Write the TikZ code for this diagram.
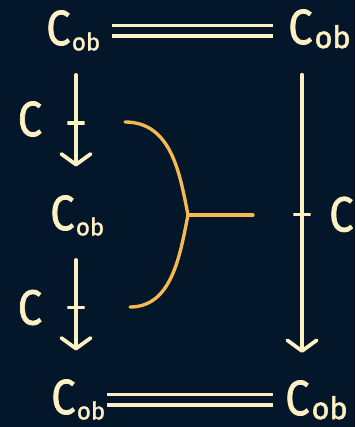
\documentclass[tikz,border=0pt]{standalone}
\usepackage{fontspec}
\setmainfont{Fira Sans}[FakeBold=1.6]
\usetikzlibrary{arrows.meta}
\definecolor{bg}{HTML}{03162A}
\definecolor{cream}{HTML}{FDF1C4}
\definecolor{bracecol}{HTML}{F8B953}
% the big C and the object category C_ob (small and large subscript)
\newcommand\bigC{\scalebox{0.88}[1]{\fontsize{37}{37}\selectfont C}}
\newcommand\Cob{\bigC\kern1pt\raisebox{-4pt}{\fontsize{18}{18}\selectfont ob}}
\newcommand\CobL{\bigC\kern1.5pt\raisebox{-3pt}{\fontsize{23}{23}\selectfont ob}}
\begin{document}
\begin{tikzpicture}[x=0.75pt,y=-0.75pt,
  obj/.style={text=cream, inner sep=0pt, anchor=base west},
  lbl/.style={text=cream, inner sep=0pt},
  arr/.style={draw=cream, line width=2.8pt, line cap=round,
    shorten <=18pt, shorten >=21.5pt,
    -{Straight Barb[length=8pt,width=22pt,line cap=round,line join=round]}},
  eqline/.style={draw=cream, line width=2.5pt, double=bg, double distance=5.5pt},
  tickmark/.style={draw=cream, line width=2.8pt, shape=rectangle,
    minimum width=13pt, minimum height=0pt, inner sep=0pt},
  bracestroke/.style={draw=bracecol, line width=2.5pt, line cap=round, line join=round}]
\fill[bg] (0,0) rectangle (355,427);
\useasboundingbox (0,0) rectangle (355,427);

% objects
\node[obj] (tl) at (46,45) {\Cob};
\node[obj] (tr) at (288,44) {\CobL};
\node[obj] (ml) at (50,230) {\Cob};
\node[obj] (bl) at (51,414) {\Cob};
\node[obj] (br) at (285,415) {\CobL};

% columns of the vertical arrows
\coordinate (lcol) at (76,0);
\coordinate (rcol) at (302,0);

% identities
\draw[eqline, shorten <=9pt, shorten >=11pt] (tl.east) -- (tl.east -| tr.west);
\draw[eqline, shorten <=1pt, shorten >=9pt] (bl.east) -- (bl.east -| br.west);

% left arrows
\draw[arr] (tl.south -| lcol) -- (ml.north -| lcol)
  node[midway, tickmark] {}
  node[midway, left=24pt, lbl, yshift=3pt] {\bigC};
\draw[arr] (ml.south -| lcol) -- (bl.north -| lcol)
  node[midway, tickmark] {}
  node[midway, left=24pt, lbl] {\bigC};

% right arrow
\draw[arr, shorten <=19.5pt, shorten >=20.5pt] (tr.south -| rcol) -- (br.north -| rcol)
  node[midway, tickmark] {}
  node[midway, right=19pt, lbl] {\bigC};

% brace joining the two left arrows
\coordinate (cusp) at (188,215);
\coordinate (stemend) at (253,215);
\draw[bracestroke] (125,122) .. controls (172,122) and (180,175) .. (cusp)
  .. controls (180,255) and (172,307) .. (130,307);
\draw[bracestroke] (cusp) -- (stemend);
\end{tikzpicture}
\end{document}
